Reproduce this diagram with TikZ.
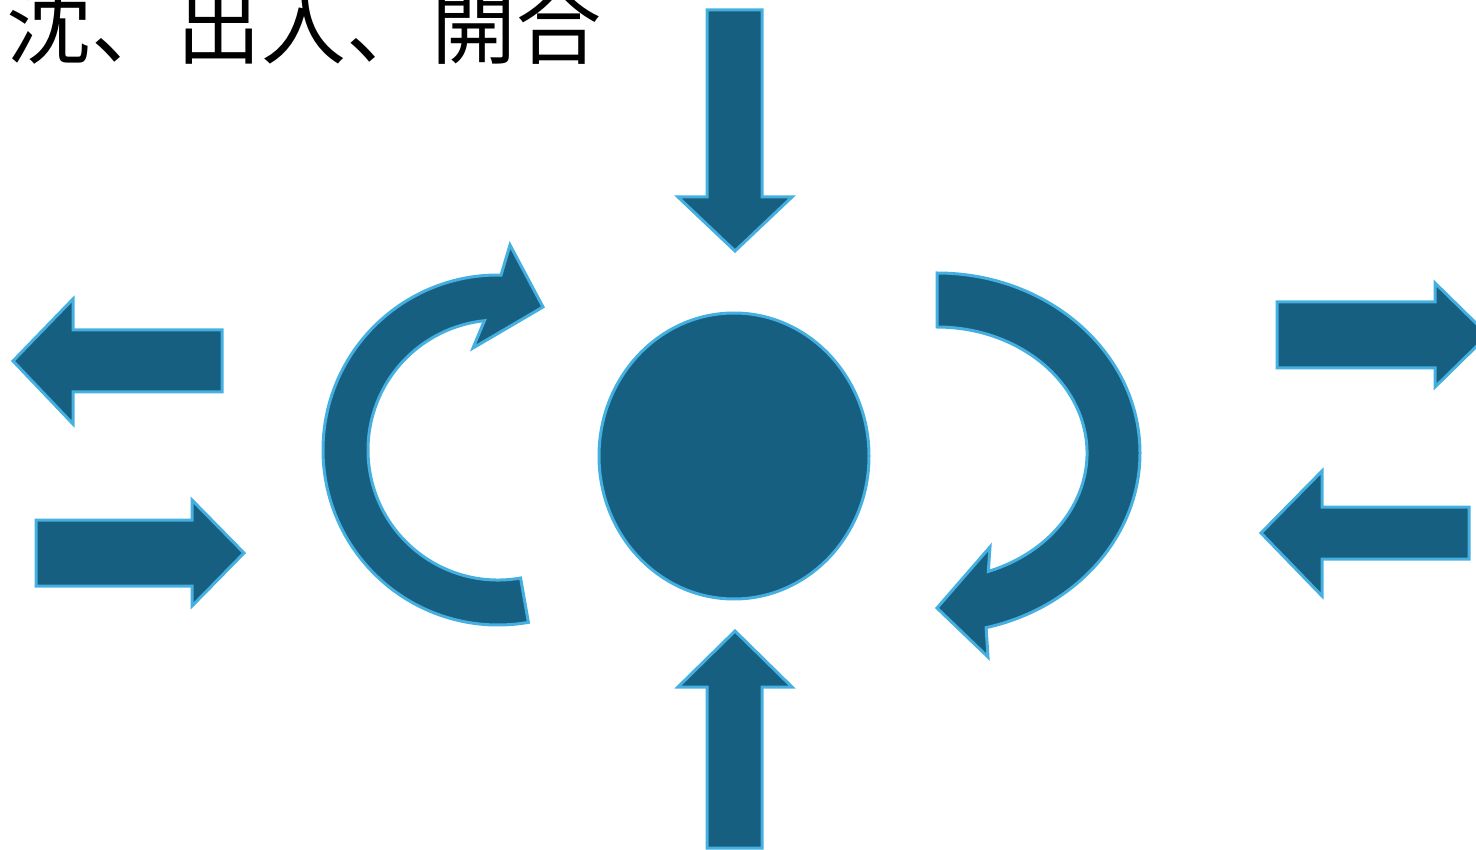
\documentclass[tikz,border=0pt]{standalone}
\usepackage{fontspec}
\usepackage{xcolor}
\usepackage{tikz}
\newfontfamily\jpfont{Noto Sans CJK JP}
\definecolor{qifill}{HTML}{175F80}
\definecolor{qiline}{HTML}{45B0E0}
\tikzset{
blockarrow/.style={fill=qifill, draw=qiline, line width=3pt, line join=miter},
title/.style={anchor=base west, inner sep=0pt, font=\jpfont\fontsize{85}{85}\selectfont}
}
\begin{document}
\begin{tikzpicture}[x=1pt,y=-1pt]
\useasboundingbox (0,0) rectangle (1476,850);
\node[title] (head) at (6,58) {沈、出入、開合};

% down and up
\draw[blockarrow] (707,10) -- (762,10) -- (762,197) -- (792,197) -- (735,251) -- (678,197) -- (707,197) -- cycle;
\draw[blockarrow] (707,848) -- (707,687) -- (678,687) -- (735,631) -- (792,687) -- (762,687) -- (762,848) -- cycle;

% centre
\draw[blockarrow] (734,456) ellipse [x radius=135, y radius=143];

% left side
\draw[blockarrow] (222,330) -- (222,392) -- (73,392) -- (73,424) -- (13,361) -- (73,299) -- (73,330) -- cycle;
\draw[blockarrow] (36,520) -- (192,520) -- (192,500) -- (244,553) -- (192,606) -- (192,586) -- (36,586) -- cycle;

% right side
\draw[blockarrow] (1277,302) -- (1435,302) -- (1435,283) -- (1488,335) -- (1435,387) -- (1435,368) -- (1277,368) -- cycle;
\draw[blockarrow] (1469,507) -- (1469,559) -- (1322,559) -- (1322,596) -- (1261,533) -- (1322,471) -- (1322,507) -- cycle;

% turning arrows
\draw[blockarrow] ([shift={(271:175)}]498,450) arc[start angle=271, end angle=80, radius=175]
  -- ([shift={(80:130)}]498,450) arc[start angle=80, end angle=264, radius=130]
  -- (473,348) -- (543,307) -- (510,245) -- cycle;
\draw[blockarrow] (937,273) arc[start angle=270, end angle=436, x radius=203, y radius=180]
  -- (988,657) -- (937,608) -- (990,547)
  -- ([shift={(430:150 and 126)}]937,453) arc[start angle=430, end angle=270, x radius=150, y radius=126] -- cycle;
\end{tikzpicture}
\end{document}
